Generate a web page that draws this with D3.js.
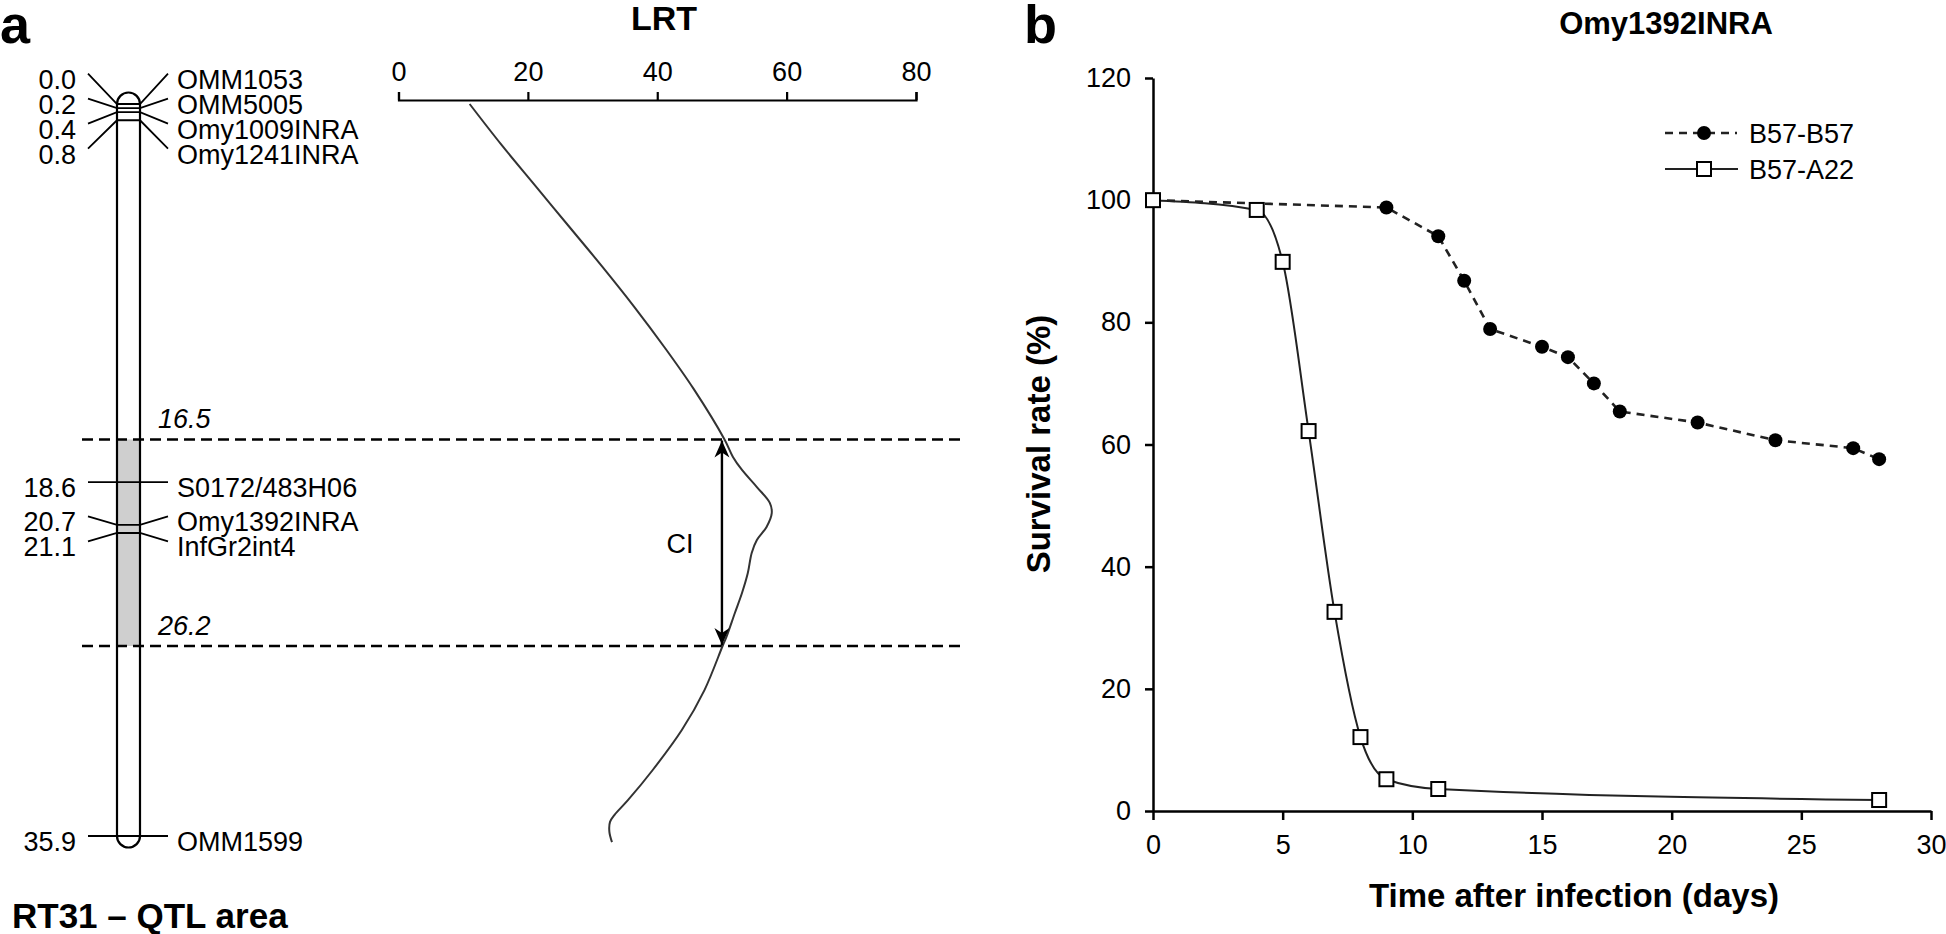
<!DOCTYPE html>
<html><head><meta charset="utf-8">
<script src="https://cdn.jsdelivr.net/npm/d3@7"></script>
<style>
html,body{margin:0;padding:0;background:#fff;}
svg{display:block;font-family:"Liberation Sans",Arial,sans-serif;}
</style></head>
<body>
<svg id="chart" width="1946" height="934"></svg>
<script>
// ---------- Panel a data ----------
const markerNames = ["OMM1053","OMM5005","Omy1009INRA","Omy1241INRA","S0172/483H06","Omy1392INRA","InfGr2int4","OMM1599"];
const markerPos   = [0.0, 0.2, 0.4, 0.8, 18.6, 20.7, 21.1, 35.9];
const ciBounds    = [16.5, 26.2];
const lrtTicks    = [0, 20, 40, 60, 80];
// LRT profile along the linkage group (position in cM, LRT value)
const lrtPos   = [0, 2, 4, 6, 8, 10, 12, 14, 16.5, 17.36, 18.0, 18.84, 19.62, 20.12, 20.80, 21.42, 22.0, 22.91, 23.81, 24.71, 25.79, 26.2, 28.45, 30.49, 32.53, 34.06, 34.82, 35.18, 35.69, 36.21];
const lrtValue = [11.0, 15.9, 21.1, 26.3, 31.5, 36.5, 41.2, 45.6, 50.4, 51.7, 53.1, 55.4, 57.4, 57.7, 56.9, 55.4, 54.6, 54.0, 53.1, 52.0, 50.7, 50.1, 47.3, 43.8, 39.3, 35.5, 33.4, 32.7, 32.6, 33.0];

// ---------- Panel b data ----------
const seriesNames = ["B57-B57", "B57-A22"];
const b57b57Days = [0, 9, 11, 12, 13, 15, 16, 17, 18, 21, 24, 27, 28];
const b57b57Surv = [100, 98.8, 94.1, 86.8, 78.9, 76.0, 74.3, 70.0, 65.4, 63.6, 60.7, 59.4, 57.6];
const b57a22Days = [0, 4, 5, 6, 7, 8, 9, 11, 28];
const b57a22Surv = [100, 98.4, 89.9, 62.2, 32.6, 12.1, 5.2, 3.6, 1.8];
const xTicks = [0, 5, 10, 15, 20, 25, 30];
const yTicks = [0, 20, 40, 60, 80, 100, 120];

const svg = d3.select("#chart");
const defs = svg.append("defs");
defs.append("marker").attr("id","arr").attr("viewBox","-18 -9 20 18")
  .attr("refX",0).attr("refY",0).attr("markerWidth",20).attr("markerHeight",18)
  .attr("markerUnits","userSpaceOnUse").attr("orient","auto-start-reverse")
  .append("path").attr("d","M0,0 L-17,-7.5 L-12,0 L-17,7.5 Z").attr("fill","#000");

// ================= PANEL A =================
const gA = svg.append("g");
gA.append("text").attr("x",0).attr("y",43).attr("font-size",54).attr("font-weight","bold").text("a");

// map drawing is not strictly to scale: piecewise-linear position scale
const cm = d3.scaleLinear().domain([0, 21.1, 26.2, 35.9]).range([104, 533, 646, 836]);
const lrtX = d3.scaleLinear().domain([0, 80]).range([398.5, 916]);

const chrL = 117, chrR = 140, chrW = chrR - chrL, cap = chrW / 2;
const chrTop = cm(0) - cap, chrBot = cm(35.9) + cap;
gA.append("rect").attr("x",chrL).attr("y",chrTop).attr("width",chrW).attr("height",chrBot-chrTop)
  .attr("rx",cap).attr("ry",cap).attr("fill","#fff");
gA.append("rect").attr("x",chrL+1).attr("y",cm(ciBounds[0])).attr("width",chrW-2)
  .attr("height",cm(ciBounds[1])-cm(ciBounds[0])).attr("fill","#cfcfcf");
gA.append("rect").attr("x",chrL).attr("y",chrTop).attr("width",chrW).attr("height",chrBot-chrTop)
  .attr("rx",cap).attr("ry",cap).attr("fill","none").attr("stroke","#000").attr("stroke-width",2.2);

// label spreading
const minGap = 25;
const mk = markerNames.map((n,i)=>({name:n,pos:markerPos[i],py:cm(markerPos[i])}));
const groups = [];
mk.forEach(m=>{
  const g = groups[groups.length-1];
  if (g && m.py - g[g.length-1].py < minGap) g.push(m); else groups.push([m]);
});
groups.forEach(g=>{
  const c = d3.mean(g, d=>d.py);
  g.forEach((d,i)=>{ d.ly = c + (i-(g.length-1)/2)*minGap; });
});
const xLab = 88, xLabR = 168;
gA.selectAll("path.conn").data(mk).enter().append("path")
  .attr("d", d=>`M${xLab},${d.ly} L${chrL},${d.py} L${chrR},${d.py} L${xLabR},${d.ly}`)
  .attr("fill","none").attr("stroke","#000").attr("stroke-width",1.8);
gA.selectAll("text.num").data(mk).enter().append("text")
  .attr("x",76).attr("y",d=>d.ly+15).attr("text-anchor","end").attr("font-size",27)
  .text(d=>d3.format(".1f")(d.pos));
gA.selectAll("text.mname").data(mk).enter().append("text")
  .attr("x",177).attr("y",d=>d.ly+15).attr("font-size",27).text(d=>d.name);

// CI dashed lines
ciBounds.forEach(b=>{
  gA.append("line").attr("x1",82).attr("x2",962).attr("y1",cm(b)).attr("y2",cm(b))
    .attr("stroke","#000").attr("stroke-width",2.4).attr("stroke-dasharray","11,6");
  gA.append("text").attr("x",158).attr("y",cm(b)-11).attr("font-size",27)
    .attr("font-style","italic").text(d3.format(".1f")(b));
});

// LRT axis
const axA = gA.append("g").attr("transform","translate(0,100)")
  .call(d3.axisTop(lrtX).tickValues(lrtTicks).tickSize(8).tickSizeOuter(8).tickPadding(11));
axA.select(".domain").attr("stroke-width",2.2);
axA.selectAll(".tick line").attr("stroke-width",2.2);
axA.selectAll("text").attr("font-size",27).attr("font-family","Liberation Sans, Arial, sans-serif").attr("fill","#000");
gA.append("text").attr("x",664).attr("y",30).attr("text-anchor","middle").attr("font-size",34)
  .attr("font-weight","bold").text("LRT");

// LRT curve
const lrtData = lrtPos.map((p,i)=>({p, v:lrtValue[i]}));
gA.append("path").datum(lrtData)
  .attr("d", d3.line().x(d=>lrtX(d.v)).y(d=>cm(d.p)).curve(d3.curveCatmullRom.alpha(0.5)))
  .attr("fill","none").attr("stroke","#333").attr("stroke-width",2);

// CI arrow
gA.append("line").attr("x1",lrtX(50)).attr("x2",lrtX(50)).attr("y1",cm(ciBounds[0])+1).attr("y2",cm(ciBounds[1])-1)
  .attr("stroke","#000").attr("stroke-width",2.4)
  .attr("marker-start","url(#arr)").attr("marker-end","url(#arr)");
gA.append("text").attr("x",lrtX(43.5)).attr("y",(cm(ciBounds[0])+cm(ciBounds[1]))/2+10)
  .attr("text-anchor","middle").attr("font-size",27).text("CI");

gA.append("text").attr("x",12).attr("y",928).attr("font-size",35).attr("font-weight","bold")
  .text("RT31 \u2013 QTL area");

// ================= PANEL B =================
const gB = svg.append("g");
gB.append("text").attr("x",1024).attr("y",43).attr("font-size",54).attr("font-weight","bold").text("b");

const x = d3.scaleLinear().domain([0,30]).range([1153,1931]);
const y = d3.scaleLinear().domain([0,120]).range([811,78]);

const axY = gB.append("g").attr("transform",`translate(${x(0)},0)`)
  .call(d3.axisLeft(y).tickValues(yTicks).tickSize(8).tickSizeOuter(0).tickPadding(14));
const axX = gB.append("g").attr("transform",`translate(0,${y(0)})`)
  .call(d3.axisBottom(x).tickValues(xTicks).tickSize(9).tickSizeOuter(0).tickPadding(15));
[axY, axX].forEach(a=>{
  a.select(".domain").attr("stroke-width",2.5);
  a.selectAll(".tick line").attr("stroke-width",2.5);
  a.selectAll("text").attr("font-size",27).attr("font-family","Liberation Sans, Arial, sans-serif").attr("fill","#000");
});

gB.append("text").attr("x",1666).attr("y",34).attr("text-anchor","middle").attr("font-size",31)
  .attr("font-weight","bold").text("Omy1392INRA");
gB.append("text").attr("transform","translate(1050,444) rotate(-90)").attr("text-anchor","middle")
  .attr("font-size",33).attr("font-weight","bold").text("Survival rate (%)");
gB.append("text").attr("x",1574).attr("y",907).attr("text-anchor","middle").attr("font-size",33)
  .attr("font-weight","bold").text("Time after infection (days)");

const sBB = b57b57Days.map((d,i)=>({d, s:b57b57Surv[i]}));
const sBA = b57a22Days.map((d,i)=>({d, s:b57a22Surv[i]}));

gB.append("path").datum(sBB)
  .attr("d", d3.line().x(d=>x(d.d)).y(d=>y(d.s)))
  .attr("fill","none").attr("stroke","#222").attr("stroke-width",2.6).attr("stroke-dasharray","8,6");
gB.selectAll("circle.bb").data(sBB).enter().append("circle")
  .attr("cx",d=>x(d.d)).attr("cy",d=>y(d.s)).attr("r",7).attr("fill","#000");

gB.append("path").datum(sBA)
  .attr("d", d3.line().x(d=>x(d.d)).y(d=>y(d.s)).curve(d3.curveMonotoneX))
  .attr("fill","none").attr("stroke","#222").attr("stroke-width",2);
const sq = 14;
gB.selectAll("rect.ba").data(sBA).enter().append("rect")
  .attr("x",d=>x(d.d)-sq/2).attr("y",d=>y(d.s)-sq/2).attr("width",sq).attr("height",sq)
  .attr("fill","#fff").attr("stroke","#000").attr("stroke-width",2);

// legend
const lg = gB.append("g");
const legY = [133, 169];
lg.append("line").attr("x1",1665).attr("x2",1737).attr("y1",legY[0]).attr("y2",legY[0])
  .attr("stroke","#222").attr("stroke-width",2.6).attr("stroke-dasharray","8,6");
lg.append("circle").attr("cx",1704).attr("cy",legY[0]).attr("r",7).attr("fill","#000");
lg.append("line").attr("x1",1665).attr("x2",1738).attr("y1",legY[1]).attr("y2",legY[1])
  .attr("stroke","#222").attr("stroke-width",2);
lg.append("rect").attr("x",1704-sq/2).attr("y",legY[1]-sq/2).attr("width",sq).attr("height",sq)
  .attr("fill","#fff").attr("stroke","#000").attr("stroke-width",2);
seriesNames.forEach((n,i)=>{
  lg.append("text").attr("x",1749).attr("y",legY[i]+10).attr("font-size",27).text(n);
});
</script>
</body></html>
